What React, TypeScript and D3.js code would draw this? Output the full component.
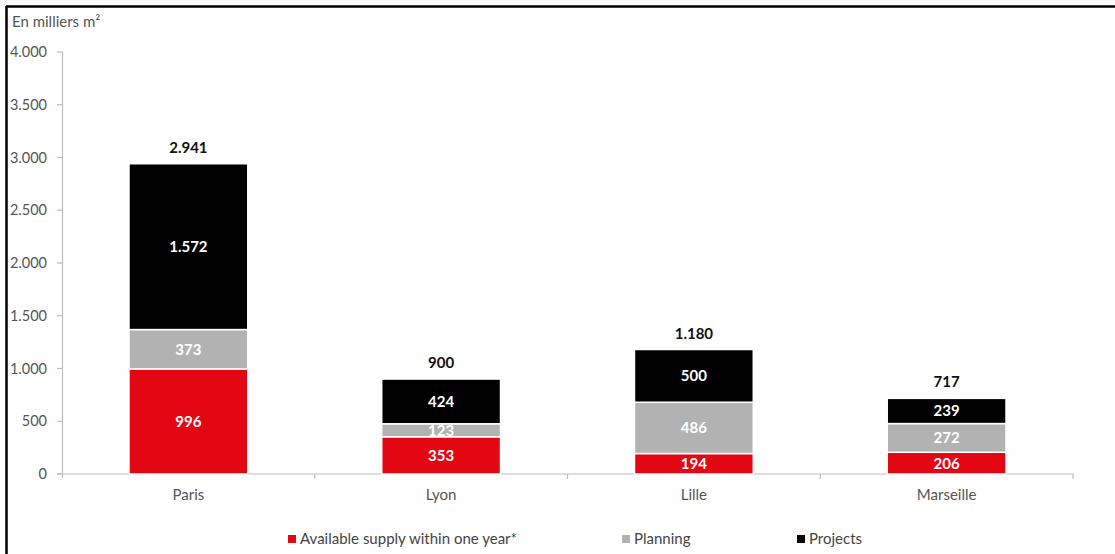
import React from "react";
import * as d3 from "d3";

const categories = ["Paris", "Lyon", "Lille", "Marseille"];
const available = [996, 353, 194, 206];
const planning = [373, 123, 486, 272];
const projects = [1572, 424, 500, 239];
const yTicks = [0, 500, 1000, 1500, 2000, 2500, 3000, 3500, 4000];
const seriesNames = ["Available supply within one year*", "Planning", "Projects"];
const seriesColors = ["#e30613", "#b2b2b2", "#000000"];

const W = 1115;
const H = 554;
const FONT = "Lato, 'Open Sans', sans-serif";

const fmt = (v: number) => d3.format(",")(v).replace(/,/g, ".");

export default function App() {
  const x = d3.scaleBand<string>().domain(categories).range([62, 1073]).paddingInner(0.53).paddingOuter(0.265);
  const xb = d3.scaleBand<string>().domain(categories).range([62, 1073]);
  const y = d3.scaleLinear().domain([0, 4000]).range([474, 52]);

  const rows = categories.map((c, i) => ({ c, available: available[i], planning: planning[i], projects: projects[i] }));
  const stack = d3.stack<any>().keys(["available", "planning", "projects"])(rows);

  return (
    <svg width={W} height={H} style={{ position: "absolute", left: 0, top: 0, fontFamily: FONT }}>
      <rect x={0} y={0} width={W} height={H} fill="#fff" />
      <line x1={6} x2={W} y1={6.5} y2={6.5} stroke="#000" strokeWidth={2.5} />
      <line x1={6.5} x2={6.5} y1={6} y2={H} stroke="#000" strokeWidth={2.5} />
      <text x={12} y={27} fontSize={15} fill="#555">En milliers m²</text>

      {/* y axis */}
      <line x1={62.5} x2={62.5} y1={y(4000)} y2={y(0) + 4} stroke="#bdbdbd" strokeWidth={1.2} />
      {yTicks.map((t) => (
        <g key={t}>
          <line x1={57} x2={62.5} y1={y(t)} y2={y(t)} stroke="#bdbdbd" strokeWidth={1.2} />
          <text x={47} y={y(t)} dy="0.35em" textAnchor="end" fontSize={14.5} fill="#555">{fmt(t)}</text>
        </g>
      ))}
      {/* x axis */}
      <line x1={57} x2={1073.5} y1={y(0)} y2={y(0)} stroke="#bdbdbd" strokeWidth={1.2} />
      {categories.map((c, i) => (
        <g key={c}>
          <line x1={(xb(c) as number) + xb.bandwidth()} x2={(xb(c) as number) + xb.bandwidth()} y1={y(0)} y2={y(0) + 5} stroke="#bdbdbd" strokeWidth={1.2} />
          <text x={(x(c) as number) + x.bandwidth() / 2} y={500} textAnchor="middle" fontSize={15} fill="#555">{c}</text>
        </g>
      ))}

      {/* bars */}
      {stack.map((s, si) => (
        <g key={si}>
          {s.map((d: any, i: number) => {
            const c = categories[i];
            const y0 = y(d[0]);
            const y1 = y(d[1]);
            const val = d[1] - d[0];
            return (
              <g key={c}>
                <rect x={x(c)} y={y1} width={x.bandwidth()} height={y0 - y1} fill={seriesColors[si]} stroke="#fff" strokeWidth={1.5} />
                <text x={(x(c) as number) + x.bandwidth() / 2} y={(y0 + y1) / 2} dy="0.36em" textAnchor="middle" fontSize={15} fontWeight="bold" fill="#fff">{fmt(val)}</text>
              </g>
            );
          })}
        </g>
      ))}
      {/* totals */}
      {categories.map((c, i) => {
        const tot = available[i] + planning[i] + projects[i];
        return (
          <text key={c} x={(x(c) as number) + x.bandwidth() / 2} y={y(tot) - 11} textAnchor="middle" fontSize={15} fontWeight="bold" fill="#111">{fmt(tot)}</text>
        );
      })}

      {/* legend */}
      {seriesNames.map((n, i) => {
        const lx = [288, 622, 797][i];
        return (
          <g key={n}>
            <rect x={lx} y={535} width={8} height={8} fill={seriesColors[i]} />
            <text x={lx + 12} y={539} dy="0.35em" fontSize={15} fill="#444">{n}</text>
          </g>
        );
      })}
    </svg>
  );
}
